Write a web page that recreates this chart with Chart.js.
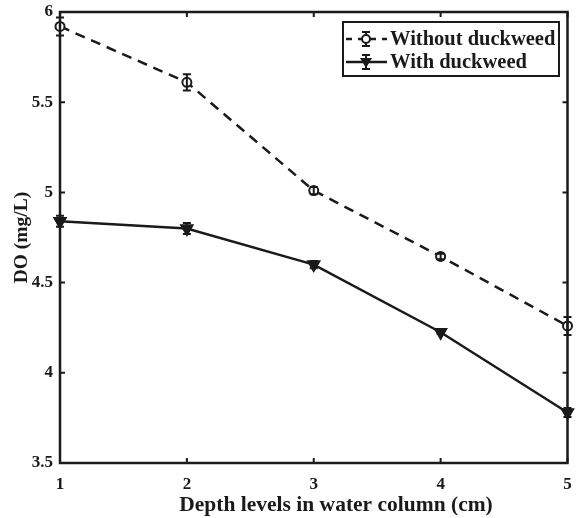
<!DOCTYPE html>
<html>
<head>
<meta charset="utf-8">
<script src="https://cdn.jsdelivr.net/npm/chart.js@4/dist/chart.umd.min.js"></script>
<style>
  html, body { margin: 0; padding: 0; background: #fff; }
  #wrap { width: 576px; height: 518px; }
</style>
</head>
<body>
<div id="wrap"><canvas id="c" width="576" height="518"></canvas></div>
<script>
const depths = [1, 2, 3, 4, 5]
const withoutDW = [5.92, 5.61, 5.01, 4.645, 4.26]
const withoutErr = [0.05, 0.045, 0.02, 0.015, 0.05]
const withDW = [4.84, 4.80, 4.60, 4.225, 3.78]
const withErr = [0.03, 0.03, 0.02, 0.01, 0.025]
const seriesNames = ['Without duckweed', 'With duckweed']
const xTitle = 'Depth levels in water column (cm)'
const yTitle = 'DO (mg/L)'

const ink = '#1a1a1a'
const serif = '"Liberation Serif", "Times New Roman", serif'

// error bars, drawn through the chart's own scales
const errorBars = {
  id: 'errorBars',
  afterDatasetsDraw(chart) {
    const { ctx, scales: { x, y } } = chart
    ctx.save()
    ctx.strokeStyle = ink
    ctx.lineWidth = 2
    chart.data.datasets.forEach(ds => {
      ds.data.forEach((p, i) => {
        const e = ds.errors[i]
        const px = x.getPixelForValue(p.x)
        const y1 = y.getPixelForValue(p.y - e)
        const y2 = y.getPixelForValue(p.y + e)
        ctx.beginPath()
        ctx.moveTo(px, y1); ctx.lineTo(px, y2)
        ctx.moveTo(px - 4, y1); ctx.lineTo(px + 4, y1)
        ctx.moveTo(px - 4, y2); ctx.lineTo(px + 4, y2)
        ctx.stroke()
      })
    })
    ctx.restore()
  }
}

// matlab style box with inward ticks, x title and legend
const frame = {
  id: 'frame',
  afterDraw(chart) {
    const { ctx, chartArea: a, scales: { x, y } } = chart
    ctx.save()
    ctx.strokeStyle = ink
    ctx.lineWidth = 2.5
    ctx.strokeRect(a.left, a.top, a.right - a.left, a.bottom - a.top)
    ctx.lineWidth = 2
    ctx.beginPath()
    x.ticks.forEach(t => {
      const px = x.getPixelForValue(t.value)
      ctx.moveTo(px, a.bottom); ctx.lineTo(px, a.bottom - 5)
      ctx.moveTo(px, a.top); ctx.lineTo(px, a.top + 5)
    })
    y.ticks.forEach(t => {
      const py = y.getPixelForValue(t.value)
      ctx.moveTo(a.left, py); ctx.lineTo(a.left + 5, py)
      ctx.moveTo(a.right, py); ctx.lineTo(a.right - 5, py)
    })
    ctx.stroke()

    // x title sits a bit right of the plot centre in the original
    ctx.fillStyle = ink
    ctx.font = 'bold 21.5px ' + serif
    ctx.textAlign = 'center'
    ctx.textBaseline = 'middle'
    ctx.fillText(xTitle, 336, 505)
    ctx.textAlign = 'left'

    // legend
    const lx = 343, ly = 22, lw = 216, lh = 54
    ctx.fillStyle = '#fff'
    ctx.fillRect(lx, ly, lw, lh)
    ctx.lineWidth = 2
    ctx.strokeRect(lx, ly, lw, lh)
    const rows = [ly + 17, ly + 40]
    chart.data.datasets.forEach((ds, k) => {
      const ry = rows[k]
      ctx.strokeStyle = ink
      ctx.lineWidth = 2.5
      ctx.setLineDash(k === 0 ? [6, 6] : [])
      ctx.beginPath()
      ctx.moveTo(lx + 3, ry); ctx.lineTo(lx + 44, ry)
      ctx.stroke()
      ctx.setLineDash([])
      const cx = lx + 23
      ctx.lineWidth = 2
      ctx.beginPath()
      ctx.moveTo(cx, ry - 7); ctx.lineTo(cx, ry + 7)
      ctx.moveTo(cx - 4, ry - 7); ctx.lineTo(cx + 4, ry - 7)
      ctx.moveTo(cx - 4, ry + 7); ctx.lineTo(cx + 4, ry + 7)
      ctx.stroke()
      if (k === 0) {
        ctx.fillStyle = '#fff'
        ctx.beginPath(); ctx.arc(cx, ry, 4, 0, Math.PI * 2); ctx.fill(); ctx.stroke()
      } else {
        ctx.fillStyle = ink
        ctx.beginPath()
        ctx.moveTo(cx - 6, ry - 4); ctx.lineTo(cx + 6, ry - 4); ctx.lineTo(cx, ry + 6)
        ctx.closePath(); ctx.fill()
      }
      ctx.fillStyle = ink
      ctx.font = 'bold 20.5px ' + serif
      ctx.textBaseline = 'middle'
      ctx.fillText(ds.label, lx + 47, ry + 1)
    })
    ctx.restore()
  }
}

new Chart(document.getElementById('c'), {
  type: 'line',
  data: {
    datasets: [
      {
        label: seriesNames[0],
        data: depths.map((d, i) => ({ x: d, y: withoutDW[i] })),
        errors: withoutErr,
        borderColor: ink,
        borderWidth: 2.5,
        borderDash: [10, 7],
        pointStyle: 'circle',
        pointRadius: 4.5,
        pointBorderWidth: 2,
        pointBackgroundColor: '#fff',
        pointBorderColor: ink,
        clip: false
      },
      {
        label: seriesNames[1],
        data: depths.map((d, i) => ({ x: d, y: withDW[i] })),
        errors: withErr,
        borderColor: ink,
        borderWidth: 2.5,
        pointStyle: 'triangle',
        pointRotation: 180,
        pointRadius: 6,
        pointBackgroundColor: ink,
        pointBorderColor: ink,
        clip: false
      }
    ]
  },
  options: {
    responsive: false,
    animation: false,
    events: [],
    layout: { padding: { top: 12, right: 5, left: 0, bottom: 0 } },
    plugins: { legend: { display: false }, tooltip: { enabled: false } },
    scales: {
      x: {
        type: 'linear',
        min: 1,
        max: 5,
        afterFit: s => { s.height = 55; s.paddingRight = 0; s.paddingLeft = 0 },
        grid: { display: false, drawTicks: false },
        border: { display: false },
        ticks: { stepSize: 1, padding: 11, color: ink, font: { family: serif, size: 17, weight: 'bold' } },
        title: { display: false }
      },
      y: {
        min: 3.5,
        max: 6,
        afterFit: s => { s.width = 60; s.paddingTop = 0; s.paddingBottom = 0 },
        grid: { display: false, drawTicks: false },
        border: { display: false },
        ticks: {
          stepSize: 0.5,
          padding: 7,
          color: ink,
          font: { family: serif, size: 17, weight: 'bold' },
          callback: v => String(v)
        },
        title: {
          display: true,
          text: yTitle,
          color: ink,
          padding: { top: 10, bottom: 0 },
          font: { family: serif, size: 19.5, weight: 'bold' }
        }
      }
    }
  },
  plugins: [errorBars, frame]
})
</script>
</body>
</html>
